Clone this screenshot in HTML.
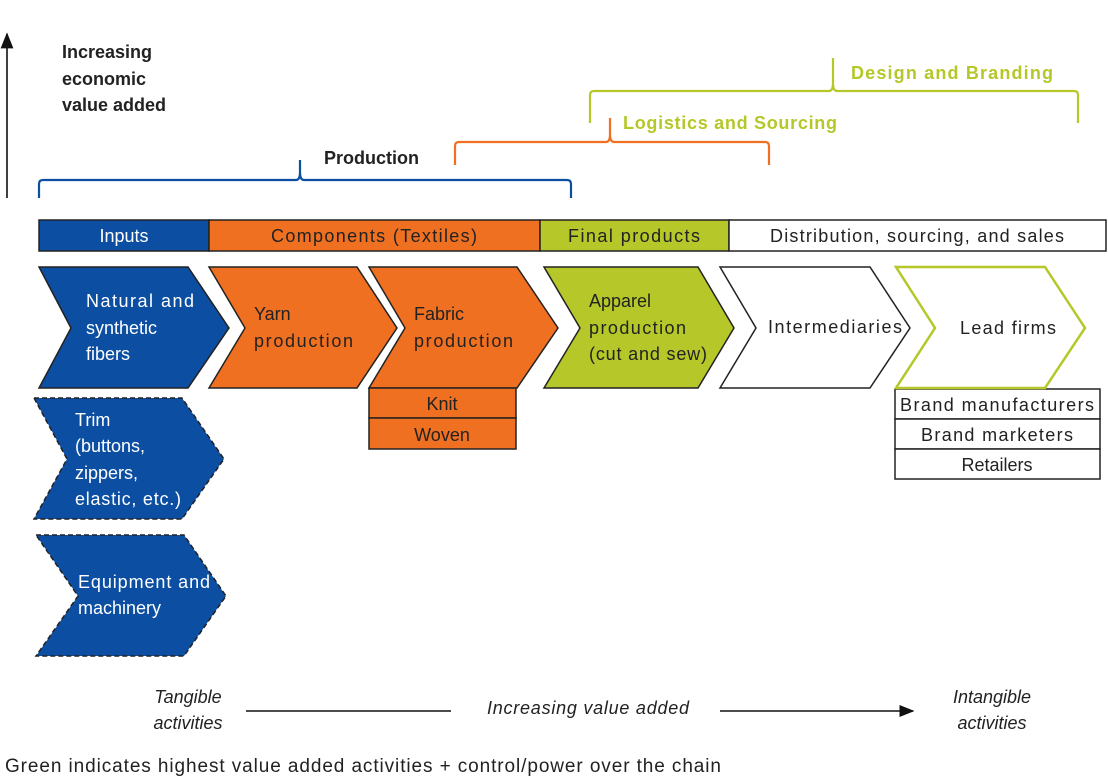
<!DOCTYPE html>
<html><head><meta charset="utf-8"><style>
html,body{margin:0;padding:0;background:#fff;width:1108px;height:778px;overflow:hidden}
svg{display:block}
text{font-family:"Liberation Sans",sans-serif}
</style></head><body>
<svg width="1108" height="778" viewBox="0 0 1108 778" xmlns="http://www.w3.org/2000/svg">
<defs><marker id="ah" markerWidth="10" markerHeight="10" refX="9" refY="5" orient="auto"><path d="M0,1 L10,5 L0,9 Z" fill="#111"/></marker></defs>
<!-- vertical arrow -->
<line x1="7" y1="198" x2="7" y2="34" stroke="#111" stroke-width="1.6" marker-end="url(#ah)"/>
<g font-weight="bold" font-size="18" fill="#222">
<text x="62" y="58">Increasing</text>
<text x="62" y="85">economic</text>
<text x="62" y="111">value added</text>
<text x="324" y="164">Production</text>
</g>
<!-- brackets -->
<path d="M39,198 V184 Q39,180 43,180 H296 Q300,180 300,172 V160 M300,172 Q300,180 304,180 H567 Q571,180 571,184 V198" fill="none" stroke="#0b4ea2" stroke-width="2.2"/>
<path d="M455,165 V146 Q455,142 459,142 H606 Q610,142 610,134 V118 M610,134 Q610,142 614,142 H765 Q769,142 769,146 V165" fill="none" stroke="#f07022" stroke-width="2.2"/>
<path d="M590,123 V95 Q590,91 594,91 H829 Q833,91 833,83 V58 M833,83 Q833,91 837,91 H1074 Q1078,91 1078,95 V123" fill="none" stroke="#b5c729" stroke-width="2.2"/>
<g font-weight="bold" font-size="18" fill="#b5c729">
<text x="623" y="129" textLength="214">Logistics and Sourcing</text>
<text x="851" y="79" textLength="202">Design and Branding</text>
</g>
<!-- header bar -->
<g stroke="#222" stroke-width="1.5">
<rect x="39" y="220" width="170" height="31" fill="#0b4ea2"/>
<rect x="209" y="220" width="331" height="31" fill="#f07022"/>
<rect x="540" y="220" width="189" height="31" fill="#b5c729"/>
<rect x="729" y="220" width="377" height="31" fill="#fff"/>
</g>
<g font-size="18" text-anchor="middle">
<text x="124" y="242" fill="#fff">Inputs</text>
<text x="374" y="242" fill="#222" textLength="206">Components (Textiles)</text>
<text x="634" y="242" fill="#222" textLength="132">Final products</text>
<text x="917" y="242" fill="#222" textLength="294">Distribution, sourcing, and sales</text>
</g>
<!-- chevrons -->
<g stroke="#222" stroke-width="1.5">
<path d="M39,267 H188 L229,328 L188,388 H39 L71,328 Z" fill="#0b4ea2"/>
<path d="M209,267 H357 L397,328 L357,388 H209 L245,328 Z" fill="#f07022"/>
<path d="M369,267 H517 L558,328 L517,388 H369 L405,328 Z" fill="#f07022"/>
<path d="M544,267 H698 L734,328 L698,388 H544 L580,328 Z" fill="#b5c729"/>
<path d="M720,267 H870 L910,328 L870,388 H720 L756,328 Z" fill="#fff"/>
<rect x="369" y="388" width="147" height="30" fill="#f07022"/>
<rect x="369" y="418" width="147" height="31" fill="#f07022"/>
<rect x="895" y="389" width="205" height="30" fill="#fff"/>
<rect x="895" y="419" width="205" height="30" fill="#fff"/>
<rect x="895" y="449" width="205" height="30" fill="#fff"/>
</g>
<path d="M896,267 H1045 L1085,328 L1045,388 H896 L935,328 Z" fill="#fff" stroke="#b5c729" stroke-width="2.5"/>
<g stroke="#222" stroke-width="1.5" stroke-dasharray="5,3" fill="#0b4ea2">
<path d="M34,398 H182 L224,459 L182,519 H34 L67,459 Z"/>
<path d="M36,535 H184 L226,596 L184,656 H36 L78,596 Z"/>
</g>
<!-- chevron labels -->
<g font-size="18" fill="#fff">
<text x="86" y="307" textLength="108">Natural and</text>
<text x="86" y="334">synthetic</text>
<text x="86" y="360">fibers</text>
<text x="75" y="426">Trim</text>
<text x="75" y="452">(buttons,</text>
<text x="75" y="479">zippers,</text>
<text x="75" y="505" textLength="106">elastic, etc.)</text>
<text x="78" y="588" textLength="132">Equipment and</text>
<text x="78" y="614">machinery</text>
</g>
<g font-size="18" fill="#222">
<text x="254" y="320">Yarn</text>
<text x="254" y="347" textLength="99">production</text>
<text x="414" y="320">Fabric</text>
<text x="414" y="347" textLength="99">production</text>
<text x="589" y="307">Apparel</text>
<text x="589" y="334" textLength="97">production</text>
<text x="589" y="360" textLength="118">(cut and sew)</text>
<text x="768" y="333" textLength="134">Intermediaries</text>
<text x="960" y="334" textLength="96">Lead firms</text>
</g>
<g font-size="18" fill="#222" text-anchor="middle">
<text x="442" y="410">Knit</text>
<text x="442" y="441">Woven</text>
<text x="997" y="411" textLength="194">Brand manufacturers</text>
<text x="997" y="441" textLength="152">Brand marketers</text>
<text x="997" y="471">Retailers</text>
</g>
<!-- bottom axis -->
<g font-size="18" font-style="italic" fill="#222">
<text x="188" y="703" text-anchor="middle">Tangible</text>
<text x="188" y="729" text-anchor="middle">activities</text>
<text x="487" y="714" textLength="202">Increasing value added</text>
<text x="992" y="703" text-anchor="middle">Intangible</text>
<text x="992" y="729" text-anchor="middle">activities</text>
</g>
<line x1="246" y1="711" x2="451" y2="711" stroke="#111" stroke-width="1.5"/>
<line x1="720" y1="711" x2="913" y2="711" stroke="#111" stroke-width="1.5" marker-end="url(#ah)"/>
<text x="5" y="772" font-size="19" fill="#222" textLength="716">Green indicates highest value added activities + control/power over the chain</text>
</svg>
</body></html>
